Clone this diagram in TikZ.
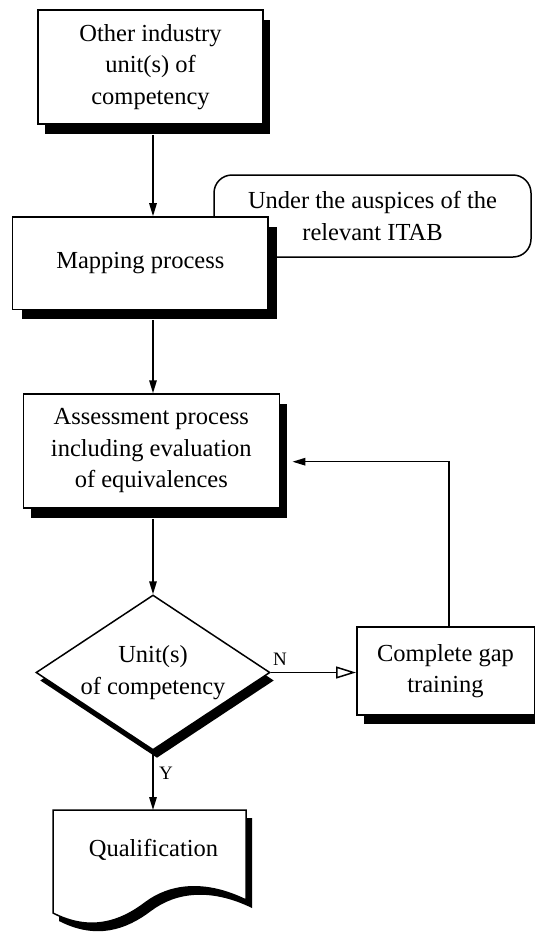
\documentclass[tikz,border=0pt]{standalone}
\usepackage{fontspec}
\setmainfont{Liberation Serif}
\usetikzlibrary{shapes.geometric,shadows,arrows.meta,calc}
\tikzset{
  shd/.style 2 args={drop shadow={shadow xshift=#1pt, shadow yshift=-#2pt, fill=black, opacity=1, draw=none}},
  txt/.style={font=\fontsize{24.5}{31.5}\selectfont, align=center, inner sep=0pt},
  box/.style={txt, draw, line width=1.5pt, fill=white},
  callout/.style={txt, draw, line width=1.5pt, fill=white, rounded corners=18pt},
  dec/.style={txt, diamond, draw, fill=white, line width=1.5pt, minimum width=234pt, minimum height=155pt, aspect=1.5},
  lbl/.style={font=\fontsize{19}{22}\selectfont, inner sep=0pt},
  arr/.style={line width=1.5pt, -{Triangle[length=13pt,width=7.5pt]}},
  oarr/.style={line width=1.5pt, -{Triangle[length=20pt,width=12pt,fill=white,line width=1.5pt]}},
}
\begin{document}
\begin{tikzpicture}[x=1pt,y=-1pt]
\useasboundingbox (0,0) rectangle (535,932);
\fill[white] (0,0) rectangle (535,932);

\node[box, minimum width=225pt, minimum height=114pt, shd={7}{10}] (other) at (150.5,67) {Other industry\\unit(s) of\\competency};
\node[callout, minimum width=317pt, minimum height=82pt] (itab) at (372.5,216) {Under the auspices of the\\relevant ITAB};
\node[box, minimum width=255.4pt, minimum height=92.5pt, shd={9}{10}] (map) at (140.3,263.2) {Mapping process};
\node[box, minimum width=256pt, minimum height=114pt, shd={8}{10}] (assess) at (151.3,451) {Assessment process\\including evaluation\\of equivalences};
\node[dec, shd={4}{8}] (unit) at (153,672.5) {Unit(s)\\of competency};
\node[box, minimum width=177.5pt, minimum height=88.3pt, shd={7}{9}] (gap) at (445.5,671) {Complete gap\\training};

% document shape
\begin{scope}[shift={(6,8)}]
\fill[black] (53,810) -- (246,810) -- (246,900) .. controls (205,880) and (170,884) .. (145,903) .. controls (120,922) and (90,932) .. (53,913) -- cycle;
\end{scope}
\draw[line width=1.5pt, fill=white] (53,810) -- (246,810) -- (246,900) .. controls (205,880) and (170,884) .. (145,903) .. controls (120,922) and (90,932) .. (53,913) -- cycle;
\node[txt] (qual) at (153.5,850) {Qualification};
\coordinate (qtop) at (153,810);
\coordinate (col) at (153,0);

% connectors
\draw[arr] ($(other.south -| col)+(0,10)$) -- (map.north -| col);
\draw[arr] ($(map.south -| col)+(0,10)$) -- (assess.north -| col);
\draw[arr] ($(assess.south -| col)+(0,10)$) -- (unit.north);
\draw[arr] (unit.south) -- (qtop);
\draw[oarr] (unit.east) -- (unit.east -| gap.west);
\draw[arr] ($(gap.north)+(3.5,0)$) |- ($(assess.east)+(12.4,10.7)$);

\node[lbl] (nlab) at (280,659) {N};
\node[lbl] (ylab) at (166,773) {Y};
\end{tikzpicture}
\end{document}
